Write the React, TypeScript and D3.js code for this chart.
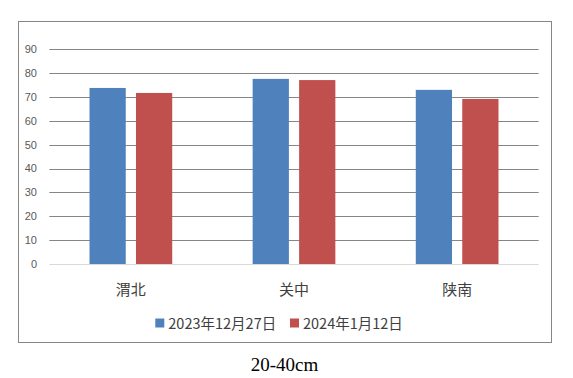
import React from "react";
import * as d3 from "d3";

const categories = ["渭北", "关中", "陕南"];
const seriesNames = ["2023年12月27日", "2024年1月12日"];
const series1 = [73.8, 77.6, 73.0];
const series2 = [71.7, 77.1, 69.2];
const yTicks = [0, 10, 20, 30, 40, 50, 60, 70, 80, 90];
const colors = ["#4F81BD", "#C0504D"];
const caption = "20-40cm";

export default function App() {
  const W = 573, H = 378;
  const left = 49.3, right = 538.7, top = 49.3, bottom = 264;
  const y = d3.scaleLinear().domain([0, 90]).range([bottom, top]);
  const x0 = d3.scaleBand<string>().domain(categories).range([left, right]).paddingInner(0.493).paddingOuter(0.2465);
  const x1 = d3.scaleBand<string>().domain(seriesNames).range([0, x0.bandwidth()]).paddingInner(0.22);
  const data = [series1, series2];
  const font = "'Noto Sans CJK SC', 'Liberation Sans', sans-serif";
  return (
    <svg width={W} height={H} style={{ position: "absolute", left: 0, top: 0, background: "#fff" }}>
      <rect x={18.5} y={21.5} width={533} height={321} fill="#fff" stroke="#868686" strokeWidth={1} />
      {yTicks.map((t) => (
        <g key={t}>
          {t !== 0 && (
            <line x1={left} x2={right} y1={Math.round(y(t)) + 0.5} y2={Math.round(y(t)) + 0.5} stroke="#868686" strokeWidth={1} />
          )}
          <text x={37} y={y(t)} dy="0.35em" textAnchor="end" fontSize={11} fill="#595959" fontFamily="'Liberation Sans', Arial, sans-serif">
            {t}
          </text>
        </g>
      ))}
      {categories.map((c, i) => (
        <g key={c} transform={`translate(${x0(c)},0)`}>
          {seriesNames.map((s, j) => (
            <rect key={s} x={x1(s)} y={y(data[j][i])} width={x1.bandwidth()} height={y(0) - y(data[j][i])} fill={colors[j]} />
          ))}
        </g>
      ))}
      <line x1={left} x2={right} y1={264.5} y2={264.5} stroke="#D9D9D9" strokeWidth={1} />
      {categories.map((c) => (
        <text key={c} x={(x0(c) as number) + x0.bandwidth() / 2} y={290} dy="0.35em" textAnchor="middle" fontSize={15} fill="#404040" fontFamily={font}>
          {c}
        </text>
      ))}
      {seriesNames.map((s, j) => {
        const lx = j === 0 ? 155.3 : 290;
        return (
          <g key={s}>
            <rect x={lx} y={318.5} width={9} height={9} fill={colors[j]} />
            <text x={lx + 13} y={323.5} dy="0.35em" fontSize={14.5} fill="#404040" fontFamily={font}>
              {s}
            </text>
          </g>
        );
      })}
      <text x={284.5} y={364} dy="0.35em" textAnchor="middle" fontSize={19} fill="#000" fontFamily="'Liberation Serif', 'Times New Roman', serif">
        {caption}
      </text>
    </svg>
  );
}
